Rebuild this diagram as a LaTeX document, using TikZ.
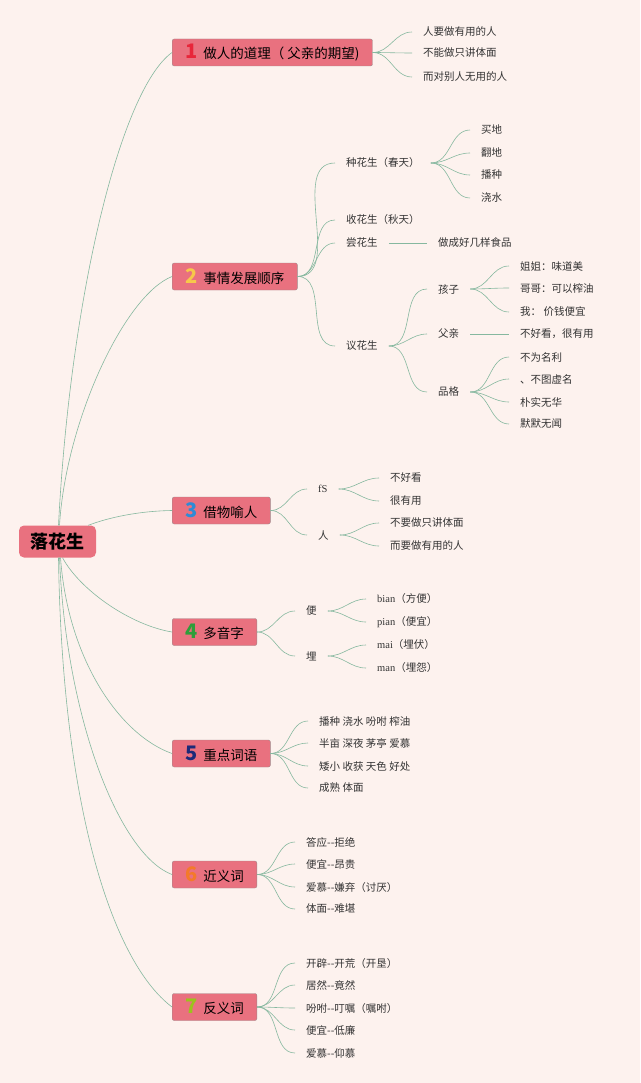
\documentclass[tikz,border=0pt]{standalone}
\usepackage{fontspec}
\setmainfont{Noto Sans CJK SC}
\newfontfamily\latin{Liberation Serif}
\definecolor{bg}{HTML}{FDF2EE}
\definecolor{boxfill}{HTML}{E9717F}
\definecolor{boxline}{HTML}{A08A8C}
\definecolor{linkc}{HTML}{86B89F}
\definecolor{txt}{HTML}{333333}
\definecolor{c1}{HTML}{E8263A}
\definecolor{c2}{HTML}{F7C84A}
\definecolor{c3}{HTML}{2E8BD6}
\definecolor{c4}{HTML}{2E9E3A}
\definecolor{c5}{HTML}{1E2A78}
\definecolor{c6}{HTML}{F47A2A}
\definecolor{c7}{HTML}{9CC21C}
\newcommand{\numb}[2]{{\color{#1}\fontsize{20}{20}\selectfont\bfseries #2}\hspace{6pt}}
\newcommand{\dd}{-{}-}
\begin{document}
\begin{tikzpicture}[x=1pt,y=-1pt,
	topic/.style={draw=boxline,fill=boxfill,rounded corners=2pt,anchor=west,minimum height=27pt,inner xsep=13pt,inner ysep=0pt,font=\fontsize{13.5}{14}\selectfont},
	leaf/.style={anchor=west,inner xsep=11pt,inner ysep=1pt,text=txt,font=\fontsize{10.5}{12}\selectfont},
	link/.style={draw=linkc,line width=0.6pt}]
		\fill[bg] (0,0) rectangle (640,1083);
		\useasboundingbox (0,0) rectangle (640,1083);

		\node[fill=boxfill,rounded corners=5pt,minimum width=77pt,minimum height=32pt,font=\fontsize{18}{18}\selectfont\bfseries] (root) at (57.5,541.5) {落花生};

		\node[topic] (b1) at (172,52.5) {\numb{c1}{1}做人的道理（ 父亲的期望)};
		\node[topic] (b2) at (172,276.5) {\numb{c2}{2}事情发展顺序};
		\node[topic] (b3) at (172,510.5) {\numb{c3}{3}借物喻人};
		\node[topic] (b4) at (172,632) {\numb{c4}{4}多音字};
		\node[topic] (b5) at (172,753.5) {\numb{c5}{5}重点词语};
		\node[topic] (b6) at (172,874.5) {\numb{c6}{6}近义词};
		\node[topic] (b7) at (172,1007) {\numb{c7}{7}反义词};

		\draw[link] ([xshift=1pt]root.north) .. controls (70,300) and (120,90) .. (b1.west);
		\draw[link] ([xshift=2pt]root.north) .. controls (66,420) and (125,295) .. (b2.west);
		\draw[link] ([xshift=-8pt]root.north east) .. controls (110,517) and (140,511) .. (b3.west);
		\draw[link] ([xshift=5pt]root.south) .. controls (80,590) and (130,625) .. (b4.west);
		\draw[link] ([xshift=3pt]root.south) .. controls (68,660) and (120,735) .. (b5.west);
		\draw[link] ([xshift=2pt]root.south) .. controls (66,720) and (120,855) .. (b6.west);
		\draw[link] ([xshift=1pt]root.south) .. controls (62,800) and (110,960) .. (b7.west);

		\node[leaf] (l11) at (412,32) {人要做有用的人};
		\node[leaf] (l12) at (412,53) {不能做只讲体面};
		\node[leaf] (l13) at (412,77) {而对别人无用的人};
		\draw[link] (b1.east) to[out=0,in=180] (l11.west);
		\draw[link] (b1.east) to[out=0,in=180] (l12.west);
		\draw[link] (b1.east) to[out=0,in=180] (l13.west);

		\node[leaf] (zhong) at (335,163) {种花生（春天）};
		\node[leaf] (shou) at (335,220) {收花生（秋天）};
		\node[leaf] (chang) at (335,243) {尝花生};
		\node[leaf] (yi) at (335,346) {议花生};
		\draw[link] (b2.east) to[out=0,in=180] (zhong.west);
		\draw[link] (b2.east) to[out=0,in=180] (shou.west);
		\draw[link] (b2.east) to[out=0,in=180] (chang.west);
		\draw[link] (b2.east) to[out=0,in=180] (yi.west);

		\node[leaf] (z1) at (470,130) {买地};
		\node[leaf] (z2) at (470,153) {翻地};
		\node[leaf] (z3) at (470,175) {播种};
		\node[leaf] (z4) at (470,198) {浇水};
		\draw[link] (zhong.east) to[out=0,in=180] (z1.west);
		\draw[link] (zhong.east) to[out=0,in=180] (z2.west);
		\draw[link] (zhong.east) to[out=0,in=180] (z3.west);
		\draw[link] (zhong.east) to[out=0,in=180] (z4.west);

		\node[leaf] (c1) at (427,243) {做成好几样食品};
		\draw[link] (chang.east) -- (c1.west);

		\node[leaf] (hai) at (427,289) {孩子};
		\node[leaf] (fu) at (427,334) {父亲};
		\node[leaf] (pin) at (427,392) {品格};
		\draw[link] (yi.east) to[out=0,in=180] (hai.west);
		\draw[link] (yi.east) to[out=0,in=180] (fu.west);
		\draw[link] (yi.east) to[out=0,in=180] (pin.west);

		\node[leaf] (h1) at (509,266) {姐姐：味道美};
		\node[leaf] (h2) at (509,288) {哥哥：可以榨油};
		\node[leaf] (h3) at (509,312) {我： 价钱便宜};
		\draw[link] (hai.east) to[out=0,in=180] (h1.west);
		\draw[link] (hai.east) to[out=0,in=180] (h2.west);
		\draw[link] (hai.east) to[out=0,in=180] (h3.west);

		\node[leaf] (f1) at (509,334) {不好看，很有用};
		\draw[link] (fu.east) -- (f1.west);

		\node[leaf] (p1) at (509,357) {不为名利};
		\node[leaf] (p2) at (509,379) {、不图虚名};
		\node[leaf] (p3) at (509,402) {朴实无华};
		\node[leaf] (p4) at (509,424) {默默无闻};
		\draw[link] (pin.east) to[out=0,in=180] (p1.west);
		\draw[link] (pin.east) to[out=0,in=180] (p2.west);
		\draw[link] (pin.east) to[out=0,in=180] (p3.west);
		\draw[link] (pin.east) to[out=0,in=180] (p4.west);

		\node[leaf] (fs) at (307,489) {\latin fS};
		\node[leaf] (ren) at (307,535) {人};
		\draw[link] (b3.east) to[out=0,in=180] (fs.west);
		\draw[link] (b3.east) to[out=0,in=180] (ren.west);
		\node[leaf] (s1) at (379,478) {不好看};
		\node[leaf] (s2) at (379,501) {很有用};
		\node[leaf] (r1) at (379,523) {不要做只讲体面};
		\node[leaf] (r2) at (379,546) {而要做有用的人};
		\draw[link] (fs.east) to[out=0,in=180] (s1.west);
		\draw[link] (fs.east) to[out=0,in=180] (s2.west);
		\draw[link] (ren.east) to[out=0,in=180] (r1.west);
		\draw[link] (ren.east) to[out=0,in=180] (r2.west);

		\node[leaf] (bian) at (295,611) {便};
		\node[leaf] (mai) at (295,656) {埋};
		\draw[link] (b4.east) to[out=0,in=180] (bian.west);
		\draw[link] (b4.east) to[out=0,in=180] (mai.west);
		\node[leaf] (y1) at (366,599) {{\latin bian}（方便）};
		\node[leaf] (y2) at (366,622) {{\latin pian}（便宜）};
		\node[leaf] (y3) at (366,645) {{\latin mai}（埋伏）};
		\node[leaf] (y4) at (366,668) {{\latin man}（埋怨）};
		\draw[link] (bian.east) to[out=0,in=180] (y1.west);
		\draw[link] (bian.east) to[out=0,in=180] (y2.west);
		\draw[link] (mai.east) to[out=0,in=180] (y3.west);
		\draw[link] (mai.east) to[out=0,in=180] (y4.west);

		\node[leaf] (w1) at (308,721) {播种 浇水 吩咐 榨油};
		\node[leaf] (w2) at (308,743) {半亩 深夜 茅亭 爱慕};
		\node[leaf] (w3) at (308,766) {矮小 收获 天色 好处};
		\node[leaf] (w4) at (308,788) {成熟 体面};
		\draw[link] (b5.east) to[out=0,in=180] (w1.west);
		\draw[link] (b5.east) to[out=0,in=180] (w2.west);
		\draw[link] (b5.east) to[out=0,in=180] (w3.west);
		\draw[link] (b5.east) to[out=0,in=180] (w4.west);

		\node[leaf] (j1) at (295,842) {答应\dd 拒绝};
		\node[leaf] (j2) at (295,864) {便宜\dd 昂贵};
		\node[leaf] (j3) at (295,887) {爱慕\dd 嫌弃（讨厌）};
		\node[leaf] (j4) at (295,909) {体面\dd 难堪};
		\draw[link] (b6.east) to[out=0,in=180] (j1.west);
		\draw[link] (b6.east) to[out=0,in=180] (j2.west);
		\draw[link] (b6.east) to[out=0,in=180] (j3.west);
		\draw[link] (b6.east) to[out=0,in=180] (j4.west);

		\node[leaf] (a1) at (295,963) {开辟\dd 开荒（开垦）};
		\node[leaf] (a2) at (295,985) {居然\dd 竟然};
		\node[leaf] (a3) at (295,1008) {吩咐\dd 叮嘱（嘱咐）};
		\node[leaf] (a4) at (295,1030) {便宜\dd 低廉};
		\node[leaf] (a5) at (295,1053) {爱慕\dd 仰慕};
		\draw[link] (b7.east) to[out=0,in=180] (a1.west);
		\draw[link] (b7.east) to[out=0,in=180] (a2.west);
		\draw[link] (b7.east) to[out=0,in=180] (a3.west);
		\draw[link] (b7.east) to[out=0,in=180] (a4.west);
		\draw[link] (b7.east) to[out=0,in=180] (a5.west);
\end{tikzpicture}
\end{document}
